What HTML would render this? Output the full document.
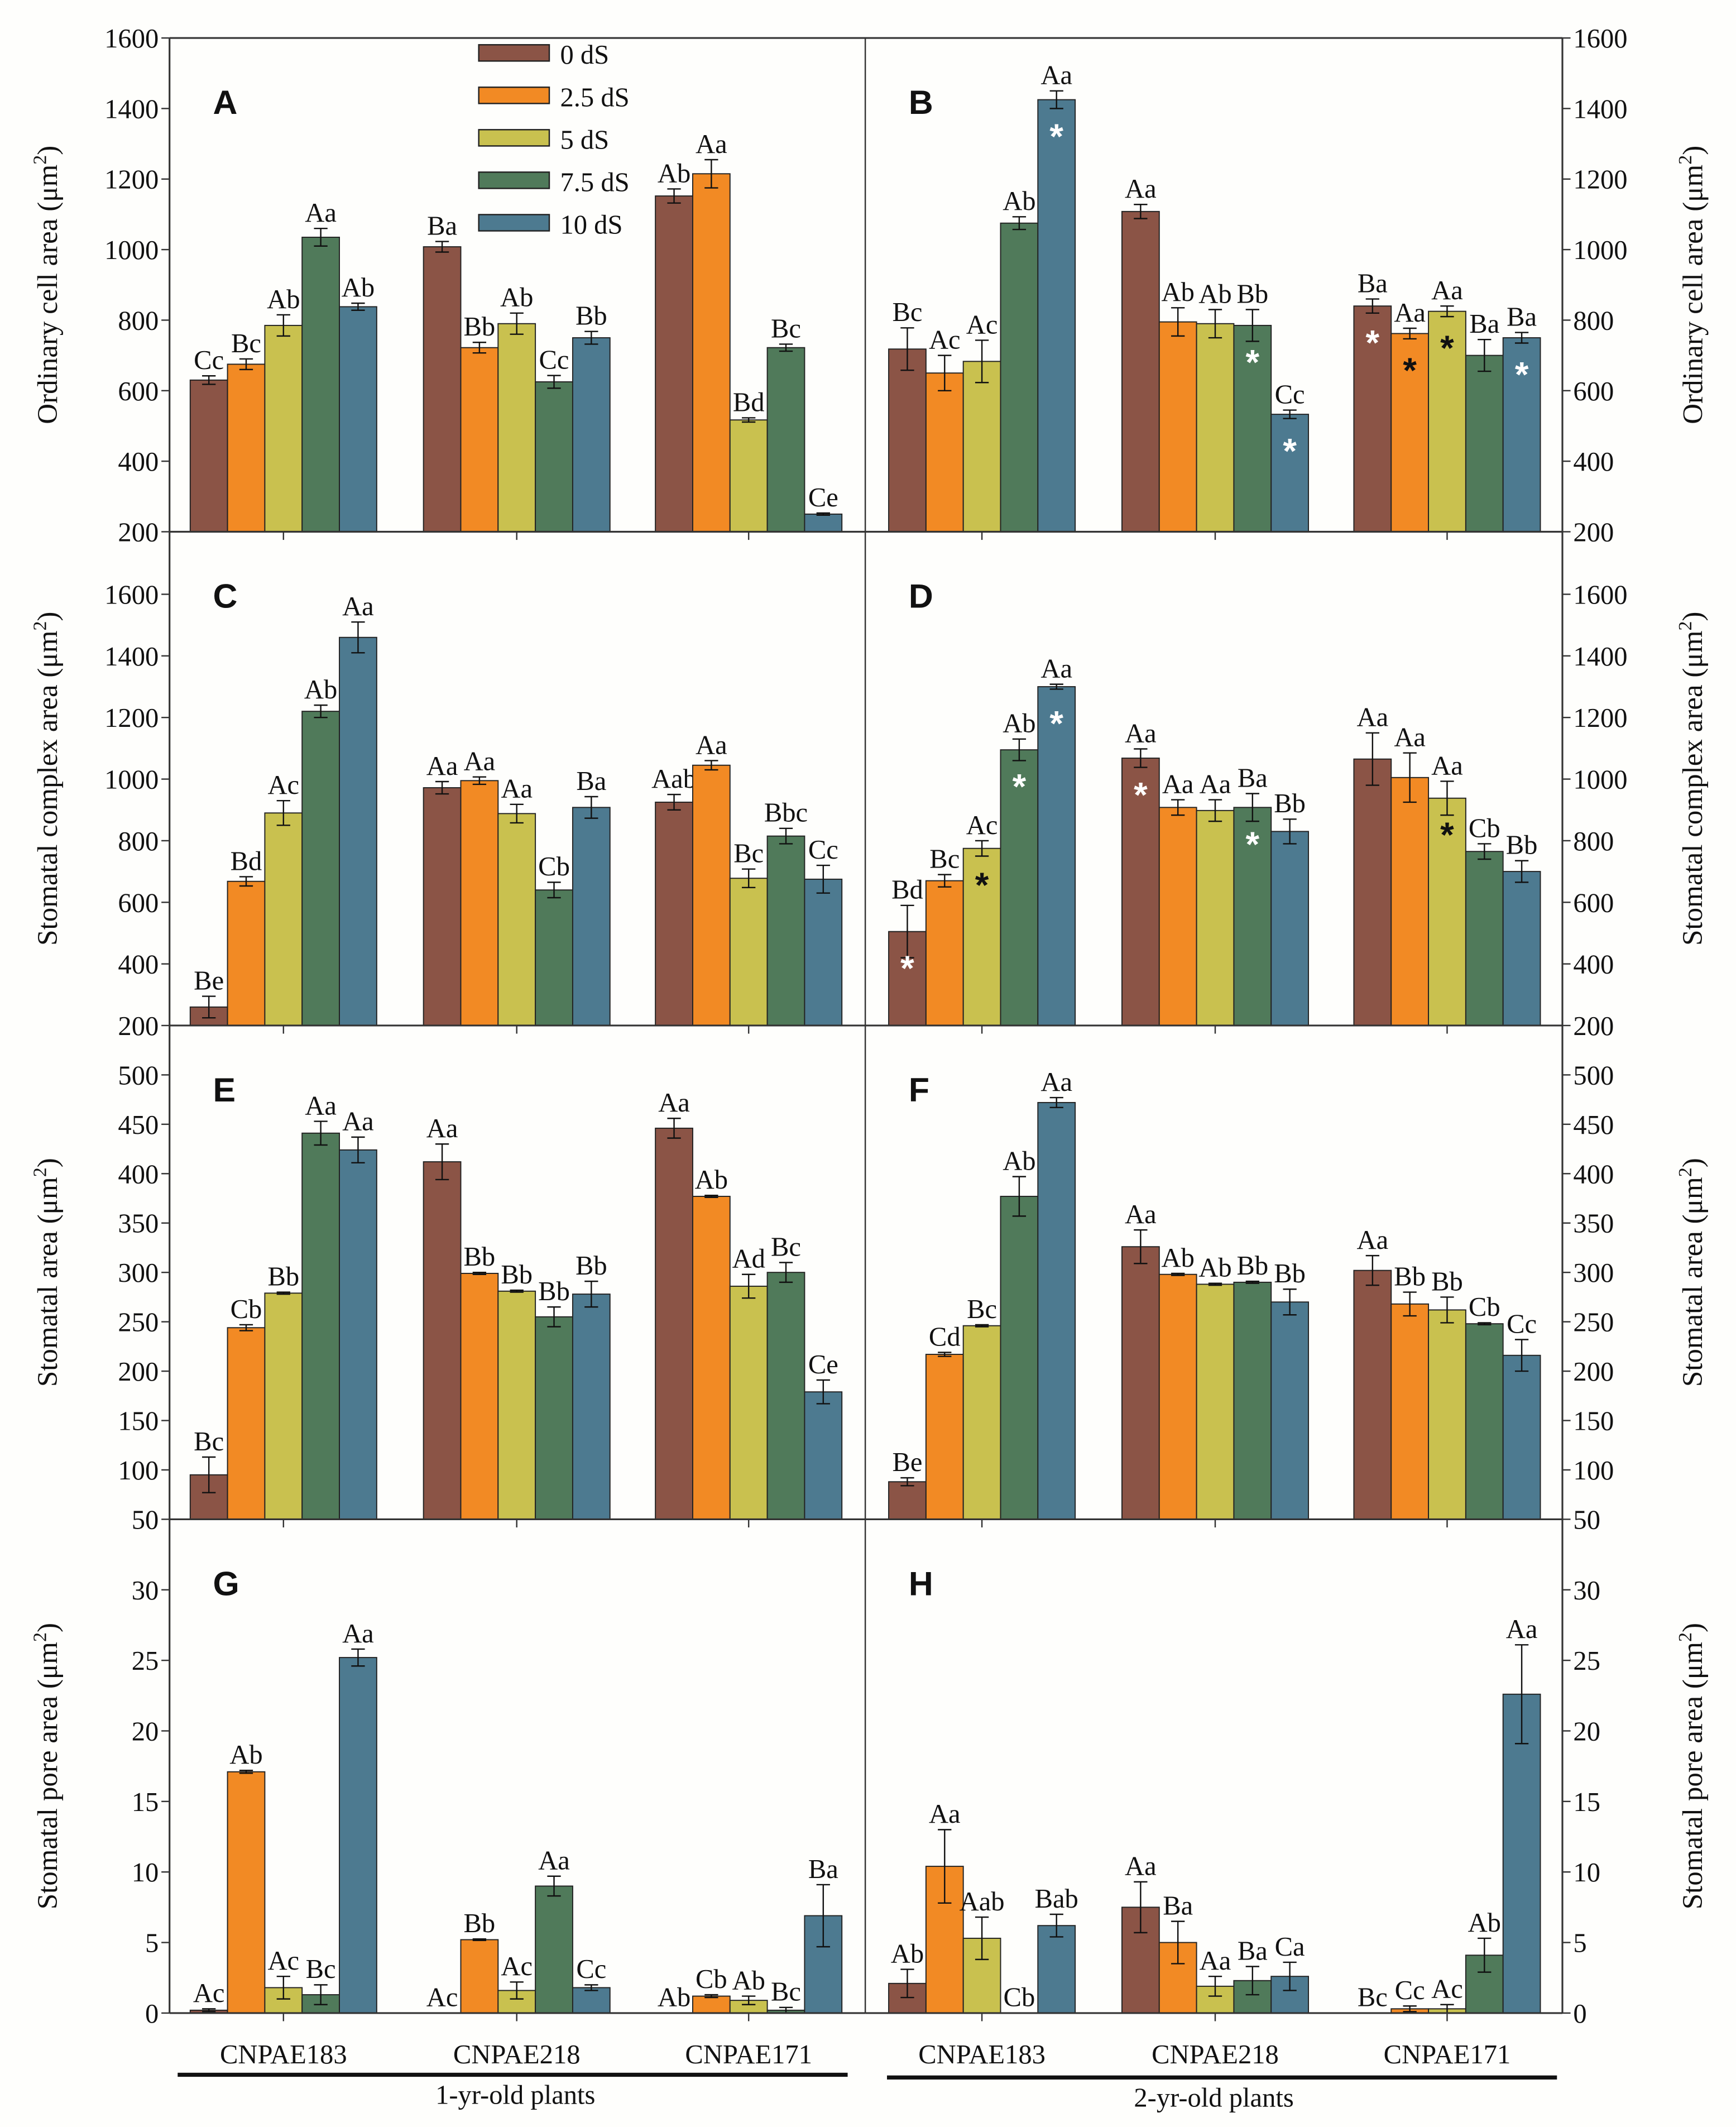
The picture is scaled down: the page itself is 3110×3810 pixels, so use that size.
<!DOCTYPE html>
<html><head><meta charset="utf-8"><style>
html,body{margin:0;padding:0;background:#fefefc;}
svg{display:block;font-family:"Liberation Serif",serif;}
</style></head><body>
<svg id="chart" width="3110" height="3810" viewBox="0 0 1280 1568" preserveAspectRatio="none" xmlns="http://www.w3.org/2000/svg" font-family="Liberation Serif, serif"></svg>
<script>
const categories = ["CNPAE183","CNPAE218","CNPAE171"];
const seriesNames = ["0 dS","2.5 dS","5 dS","7.5 dS","10 dS"];
const colors = ["#8b5446","#f28a24","#c9c14f","#507a5a","#4d7a90"];

const valA = [[630,675,785,1035,838],[1008,722,790,625,750],[1152,1215,517,722,250]];
const errA = [[12,15,30,25,10],[15,15,30,18,18],[20,40,6,10,3]];
const labA = [["Cc","Bc","Ab","Aa","Ab"],["Ba","Bb","Ab","Cc","Bb"],["Ab","Aa","Bd","Bc","Ce"]];
const valB = [[718,650,683,1075,1425],[1108,795,790,785,533],[840,762,825,700,750]];
const errB = [[60,50,60,18,25],[20,40,40,45,12],[20,15,15,45,15]];
const labB = [["Bc","Ac","Ac","Ab","Aa"],["Aa","Ab","Ab","Bb","Cc"],["Ba","Aa","Aa","Ba","Ba"]];
const astB = [["","","","","w"],["","","","w","w"],["w","k","k","","w"]];
const valC = [[260,668,890,1220,1460],[972,995,888,640,908],[925,1045,678,815,675]];
const errC = [[35,15,40,20,50],[20,12,30,25,35],[25,15,30,25,45]];
const labC = [["Be","Bd","Ac","Ab","Aa"],["Aa","Aa","Aa","Cb","Ba"],["Aab","Aa","Bc","Bbc","Cc"]];
const valD = [[505,670,775,1095,1300],[1068,908,898,908,830],[1065,1005,938,765,700]];
const errD = [[85,20,25,35,8],[30,25,35,45,40],[85,80,55,25,35]];
const labD = [["Bd","Bc","Ac","Ab","Aa"],["Aa","Aa","Aa","Ba","Bb"],["Aa","Aa","Aa","Cb","Bb"]];
const astD = [["w","","k","w","w"],["w","","","w",""],["","","k","",""]];
const valE = [[95,244,279,441,424],[412,299,281,255,278],[446,377,286,300,179]];
const errE = [[18,3,1,12,13],[18,1,1,10,13],[10,1,12,10,12]];
const labE = [["Bc","Cb","Bb","Aa","Aa"],["Aa","Bb","Bb","Bb","Bb"],["Aa","Ab","Ad","Bc","Ce"]];
const valF = [[88,217,246,377,472],[326,298,288,290,270],[302,268,262,248,216]];
const errF = [[4,2,1,20,5],[17,1,1,1,13],[15,12,13,1,16]];
const labF = [["Be","Cd","Bc","Ab","Aa"],["Aa","Ab","Ab","Bb","Bb"],["Aa","Bb","Bb","Cb","Cc"]];
const valG = [[0.2,17.1,1.8,1.3,25.2],[0,5.2,1.6,9.0,1.8],[0,1.2,0.9,0.2,6.9]];
const errG = [[0.1,0.1,0.8,0.7,0.6],[0,0.05,0.6,0.7,0.2],[0,0.1,0.3,0.2,2.2]];
const labG = [["Ac","Ab","Ac","Bc","Aa"],["Ac","Bb","Ac","Aa","Cc"],["Ab","Cb","Ab","Bc","Ba"]];
const valH = [[2.1,10.4,5.3,0,6.2],[7.5,5.0,1.9,2.3,2.6],[0,0.3,0.3,4.1,22.6]];
const errH = [[1.0,2.6,1.5,0,0.8],[1.8,1.5,0.7,1.0,1.0],[0,0.2,0.3,1.2,3.5]];
const labH = [["Ab","Aa","Aab","Cb","Bab"],["Aa","Ba","Aa","Ba","Ca"],["Bc","Cc","Ac","Ab","Aa"]];
const ticksAB = [200,400,600,800,1000,1200,1400,1600];
const ticksCD = [200,400,600,800,1000,1200,1400,1600];
const ticksEF = [50,100,150,200,250,300,350,400,450,500];
const ticksGH = [0,5,10,15,20,25,30];

const NS="http://www.w3.org/2000/svg";
const svg=document.getElementById('chart');
const SERIF='font-family:"Liberation Serif",serif;fill:#111;';
function mk(tag,attrs,parent){const e=document.createElementNS(NS,tag);
  if(tag==='text'&&!attrs.style)attrs.style=SERIF;
  for(const k in attrs)e.setAttribute(k,attrs[k]);(parent||svg).appendChild(e);return e;}

const XL=125,XM=638,XR=1152,BW=27.5;
const leftCenters=[209,381,552], rightCenters=[724,896,1067];

function panel(name,letter,side,top,bottom,ymin,ymax,vals,errs,labs,asts,ticks,title){
  const g=mk('g',{});
  
  
  const y=v=>bottom-(v-ymin)/(ymax-ymin)*(bottom-top);
  const centers= side==='L'?leftCenters:rightCenters;
  vals.forEach((grp,gi)=>{
    grp.forEach((v,si)=>{
      const x=centers[gi]-2.5*BW+si*BW;
      const yt=y(Math.max(v,ymin));
      if(v>ymin){
        const r=mk('rect',{x:x,y:yt,width:BW,height:bottom-yt,fill:colors[si],stroke:'#222','stroke-width':0.8},g);
        
        
      }
      const e=errs[gi][si];
      const cx=x+BW/2;
      let ytop=yt;
      if(e>0){
        const y1=y(v+e),y2=y(v-e);
        mk('line',{x1:cx,x2:cx,y1:y1,y2:y2,stroke:'#111','stroke-width':1},g);
        mk('line',{x1:cx-5,x2:cx+5,y1:y1,y2:y1,stroke:'#111','stroke-width':1},g);
        mk('line',{x1:cx-5,x2:cx+5,y1:y2,y2:y2,stroke:'#111','stroke-width':1},g);
        ytop=y1;
      }
      const t=mk('text',{x:cx,y:ytop-5,'text-anchor':'middle','font-size':20},g);
      t.textContent=labs[gi][si];
      
      
      if(asts&&asts[gi][si]){
        const a=mk('text',{x:cx,y:yt+36,'text-anchor':'middle','font-size':26,'font-weight':'bold',style:'font-family:"Liberation Sans",sans-serif;fill:'+(asts[gi][si]==='w'?'#fff':'#111')},g);
        a.textContent='*';
        
        
      }
    });
    mk('line',{x1:centers[gi],x2:centers[gi],y1:bottom,y2:bottom+6,stroke:'#333','stroke-width':1},g);
  });
  ticks.forEach(tv=>{
    const ty=y(tv);
    if(side==='L'){
      mk('line',{x1:XL-6,x2:XL,y1:ty,y2:ty,stroke:'#333','stroke-width':1},g);
      const t=mk('text',{x:XL-8,y:ty+7,'text-anchor':'end','font-size':20},g);t.textContent=tv;
      
    } else {
      mk('line',{x1:XR,x2:XR+6,y1:ty,y2:ty,stroke:'#333','stroke-width':1},g);
      const t=mk('text',{x:XR+8,y:ty+7,'text-anchor':'start','font-size':20},g);t.textContent=tv;
      
    }
  });
  mk('line',{x1:side==='L'?XL:XM,x2:side==='L'?XM:XR,y1:bottom,y2:bottom,stroke:'#333','stroke-width':1.3},g);
  const lx=(side==='L'?XL:XM)+32;
  const L=mk('text',{x:lx,y:top+56,'font-size':25,'font-weight':'bold',style:'font-family:"Liberation Sans",sans-serif;fill:#111'},g);
  L.textContent=letter;
  
  if(title){
    const cy=(top+bottom)/2;
    const tx= side==='L'?42:1255;
    const t=mk('text',{x:tx,y:cy,'text-anchor':'middle','font-size':21,transform:'rotate(-90 '+tx+' '+cy+')'},g);
    t.innerHTML=title+' (μm<tspan dy="-8" font-size="14">2</tspan><tspan dy="8">)</tspan>';
    
  }
}
panel('a','A','L',28,392,200,1600,valA,errA,labA,null,ticksAB,'Ordinary cell area');
panel('b','B','R',28,392,200,1600,valB,errB,labB,astB,ticksAB,'Ordinary cell area');
panel('c','C','L',392,756,200,1803,valC,errC,labC,null,ticksCD,'Stomatal complex area');
panel('d','D','R',392,756,200,1803,valD,errD,labD,astD,ticksCD,'Stomatal complex area');
panel('e','E','L',756,1120,50,550,valE,errE,labE,null,ticksEF,'Stomatal area');
panel('f','F','R',756,1120,50,550,valF,errF,labF,null,ticksEF,'Stomatal area');
panel('g','G','L',1120,1484,0,35,valG,errG,labG,null,ticksGH,'Stomatal pore area');
panel('h','H','R',1120,1484,0,35,valH,errH,labH,null,ticksGH,'Stomatal pore area');
mk('line',{x1:XL,x2:XR,y1:28,y2:28,stroke:'#333','stroke-width':1.3});
mk('line',{x1:XL,x2:XL,y1:28,y2:1484,stroke:'#333','stroke-width':1.3});
mk('line',{x1:XR,x2:XR,y1:28,y2:1484,stroke:'#333','stroke-width':1.3});
mk('line',{x1:XM,x2:XM,y1:28,y2:1484,stroke:'#333','stroke-width':1});
seriesNames.forEach((n,i)=>{
  const yy=33+i*31.3;
  const r=mk('rect',{x:353,y:yy,width:52,height:12,fill:colors[i],stroke:'#222','stroke-width':1});
  
  const t=mk('text',{x:413,y:yy+14,'font-size':20});t.textContent=n;
  
});
[leftCenters,rightCenters].forEach(cs=>cs.forEach((c,i)=>{
  const t=mk('text',{x:c,y:1521,'text-anchor':'middle','font-size':20});t.textContent=categories[i];
  
}));
mk('rect',{x:131,y:1528,width:494,height:3,fill:'#111'});
mk('rect',{x:654,y:1530,width:494,height:3,fill:'#111'});
const g1=mk('text',{x:380,y:1551,'text-anchor':'middle','font-size':20});g1.textContent='1-yr-old plants';

const g2=mk('text',{x:895,y:1553,'text-anchor':'middle','font-size':20});g2.textContent='2-yr-old plants';

</script>
</body></html>
